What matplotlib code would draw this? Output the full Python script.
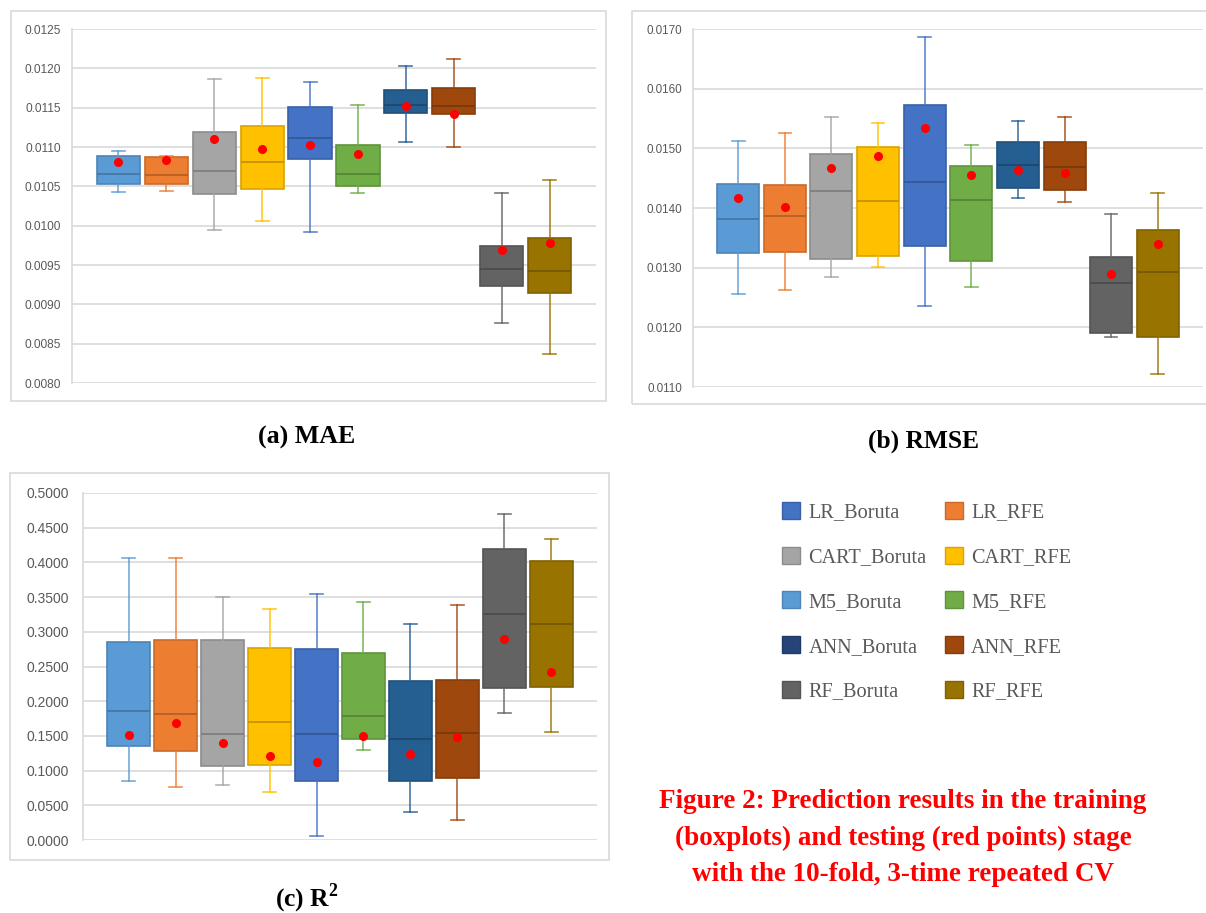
import matplotlib
matplotlib.use("Agg")
import matplotlib.pyplot as plt
import matplotlib.colors as mcolors
from matplotlib.patches import Patch, Rectangle

plt.rcParams["font.family"] = ["Liberation Sans", "DejaVu Sans"]
plt.rcParams["mathtext.fontset"] = "custom"
plt.rcParams["mathtext.rm"] = "Liberation Serif"
plt.rcParams["mathtext.bf"] = "Liberation Serif:bold"

# boxes in drawing order (colour as seen in the picture)
box_models = ["M5_Boruta", "LR_RFE", "CART_Boruta", "CART_RFE", "LR_Boruta",
              "M5_RFE", "ANN_Boruta", "ANN_RFE", "RF_Boruta", "RF_RFE"]
box_colors = ["#5B9BD5", "#ED7D31", "#A5A5A5", "#FFC000", "#4472C4",
              "#70AD47", "#255E91", "#9E480E", "#636363", "#997300"]

# MAE
mae_lo = [0.01043, 0.01044, 0.00994, 0.01006, 0.00992, 0.01041, 0.01106, 0.01100, 0.00876, 0.00837]
mae_q1 = [0.01053, 0.01053, 0.01040, 0.01047, 0.01085, 0.01051, 0.01143, 0.01142, 0.00923, 0.00914]
mae_med = [0.01066, 0.01065, 0.01070, 0.01081, 0.01112, 0.01066, 0.01153, 0.01152, 0.00945, 0.00943]
mae_q3 = [0.01089, 0.01087, 0.01119, 0.01127, 0.01151, 0.01102, 0.01172, 0.01175, 0.00974, 0.00984]
mae_hi = [0.01095, 0.01089, 0.01187, 0.01188, 0.01182, 0.01153, 0.01203, 0.01212, 0.01042, 0.01058]
mae_test = [0.01081, 0.01083, 0.01110, 0.01097, 0.01102, 0.01091, 0.01152, 0.01142, 0.00969, 0.00978]

# RMSE
rmse_lo = [0.01256, 0.01262, 0.01284, 0.01301, 0.01236, 0.01268, 0.01417, 0.01410, 0.01183, 0.01121]
rmse_q1 = [0.01324, 0.01327, 0.01315, 0.01320, 0.01336, 0.01311, 0.01433, 0.01431, 0.01191, 0.01184]
rmse_med = [0.01382, 0.01387, 0.01429, 0.01411, 0.01443, 0.01413, 0.01472, 0.01469, 0.01275, 0.01292]
rmse_q3 = [0.01441, 0.01439, 0.01490, 0.01502, 0.01572, 0.01470, 0.01511, 0.01511, 0.01318, 0.01363]
rmse_hi = [0.01513, 0.01525, 0.01553, 0.01542, 0.01686, 0.01506, 0.01546, 0.01553, 0.01390, 0.01425]
rmse_test = [0.01417, 0.01401, 0.01467, 0.01487, 0.01534, 0.01456, 0.01463, 0.01458, 0.01290, 0.01340]

# R2
r2_lo = [0.0849, 0.0758, 0.0787, 0.0686, 0.0062, 0.1300, 0.0398, 0.0283, 0.1823, 0.1550]
r2_q1 = [0.1348, 0.1286, 0.1065, 0.1080, 0.0854, 0.1449, 0.0845, 0.0897, 0.2188, 0.2203]
r2_med = [0.1852, 0.1814, 0.1521, 0.1699, 0.1521, 0.1790, 0.1449, 0.1536, 0.3258, 0.3119]
r2_q3 = [0.2855, 0.2879, 0.2879, 0.2769, 0.2754, 0.2697, 0.2284, 0.2303, 0.4199, 0.4016]
r2_hi = [0.4059, 0.4059, 0.3498, 0.3335, 0.3546, 0.3431, 0.3119, 0.3393, 0.4702, 0.4338]
r2_test = [0.1511, 0.1679, 0.1401, 0.1214, 0.1128, 0.1497, 0.1238, 0.1488, 0.2903, 0.2418]

legend_names = ["LR_Boruta", "CART_Boruta", "M5_Boruta", "ANN_Boruta", "RF_Boruta",
                "LR_RFE", "CART_RFE", "M5_RFE", "ANN_RFE", "RF_RFE"]
legend_colors = {"LR_Boruta": "#4472C4", "LR_RFE": "#ED7D31", "CART_Boruta": "#A5A5A5",
                 "CART_RFE": "#FFC000", "M5_Boruta": "#5B9BD5", "M5_RFE": "#70AD47",
                 "ANN_Boruta": "#264478", "ANN_RFE": "#9E480E", "RF_Boruta": "#636363",
                 "RF_RFE": "#997300"}

GRID = "#D9D9D9"
TXT = "#595959"


def darker(c, f=0.8):
    r, g, b = mcolors.to_rgb(c)
    return (r * f, g * f, b * f)


def draw_panel(ax, lo, q1, med, q3, hi, test, ylim, ystep, fsize):
    stats = [dict(whislo=a, q1=b, med=c, q3=d, whishi=e, fliers=[])
             for a, b, c, d, e in zip(lo, q1, med, q3, hi)]
    pos = list(range(len(stats)))
    bp = ax.bxp(stats, positions=pos, widths=0.9, patch_artist=True,
                showfliers=False, capwidths=0.27)
    for i, col in enumerate(box_colors):
        bp["boxes"][i].set_facecolor(col)
        bp["boxes"][i].set_edgecolor(darker(col, 0.85))
        bp["boxes"][i].set_linewidth(1.2)
        bp["medians"][i].set_color(darker(col, 0.75))
        bp["medians"][i].set_linewidth(1.2)
        for ln in bp["whiskers"][2 * i:2 * i + 2] + bp["caps"][2 * i:2 * i + 2]:
            ln.set_color(col)
            ln.set_linewidth(1.2)
            ln.set_alpha(0.85)
    ax.plot(pos, test, "o", color="#FF0000", ms=5.5, zorder=5)

    ax.set_xlim(-0.97, 9.97)
    ax.set_ylim(*ylim)
    n = int(round((ylim[1] - ylim[0]) / ystep))
    ax.set_yticks([ylim[0] + k * ystep for k in range(n + 1)])
    ax.yaxis.set_major_formatter(matplotlib.ticker.FormatStrFormatter("%.4f"))
    ax.set_xticks([])
    ax.yaxis.grid(True, color=GRID, lw=1.2)
    ax.set_axisbelow(True)
    for s in ["top", "right", "bottom"]:
        ax.spines[s].set_visible(False)
    ax.spines["left"].set_color(GRID)
    ax.spines["left"].set_linewidth(1.2)
    ax.tick_params(axis="y", length=0, pad=8, labelsize=fsize, labelcolor=TXT)


W, H = 1206, 913
fig = plt.figure(figsize=(W / 100, H / 100), dpi=100)


def frac(x0, y0, x1, y1):
    return [x0 / W, 1 - y1 / H, (x1 - x0) / W, (y1 - y0) / H]


# outer chart borders
for x0, y0, x1, y1 in [(11, 11, 606, 401), (632, 11, 1212, 404), (10, 473, 609, 860)]:
    fig.add_artist(Rectangle((x0 / W, 1 - y1 / H), (x1 - x0) / W, (y1 - y0) / H,
                             transform=fig.transFigure, fill=False,
                             edgecolor=GRID, lw=1.2))

ax1 = fig.add_axes(frac(72, 29, 596, 383))
draw_panel(ax1, mae_lo, mae_q1, mae_med, mae_q3, mae_hi, mae_test,
           (0.0080, 0.0125), 0.0005, 8.6)

ax2 = fig.add_axes(frac(693, 29, 1203, 387))
draw_panel(ax2, rmse_lo, rmse_q1, rmse_med, rmse_q3, rmse_hi, rmse_test,
           (0.0110, 0.0170), 0.0010, 8.4)

ax3 = fig.add_axes(frac(83, 493, 597, 840))
draw_panel(ax3, r2_lo, r2_q1, r2_med, r2_q3, r2_hi, r2_test,
           (0.0, 0.5), 0.05, 10)
ax3.tick_params(axis="y", pad=10)

serif = ["Liberation Serif", "DejaVu Serif"]
fig.text(307 / W, 1 - 437 / H, "(a) MAE", ha="center", va="center",
         family=serif, weight="bold", fontsize=18.6)
fig.text(923 / W, 1 - 441 / H, "(b) RMSE", ha="center", va="center",
         family=serif, weight="bold", fontsize=18.4)
fig.text(307 / W, 1 - 898 / H, r"(c) R$^{\mathbf{2}}$", ha="center", va="center",
         family=serif, weight="bold", fontsize=18.4)

fig.text(903 / W, 1 - 838 / H,
         "Figure 2: Prediction results in the training\n"
         "(boxplots) and testing (red points) stage\n"
         "with the 10-fold, 3-time repeated CV",
         ha="center", va="center", family=serif, weight="bold",
         fontsize=19.5, color="#FF0000", linespacing=1.58)

handles = [Patch(facecolor=legend_colors[n], edgecolor=darker(legend_colors[n], 0.85),
                 label=n) for n in legend_names]
leg = fig.legend(handles=handles, ncol=2, loc="upper left",
                 bbox_to_anchor=(782 / W, 1 - 502 / H), frameon=False,
                 prop={"family": "Liberation Serif", "size": 14.6},
                 handlelength=0.9, handleheight=0.9, handletextpad=0.4,
                 labelspacing=1.2, columnspacing=0.9, borderpad=0, borderaxespad=0)
for t in leg.get_texts():
    t.set_color(TXT)

fig.savefig("out.png", dpi=100, facecolor="white")
plt.close(fig)
